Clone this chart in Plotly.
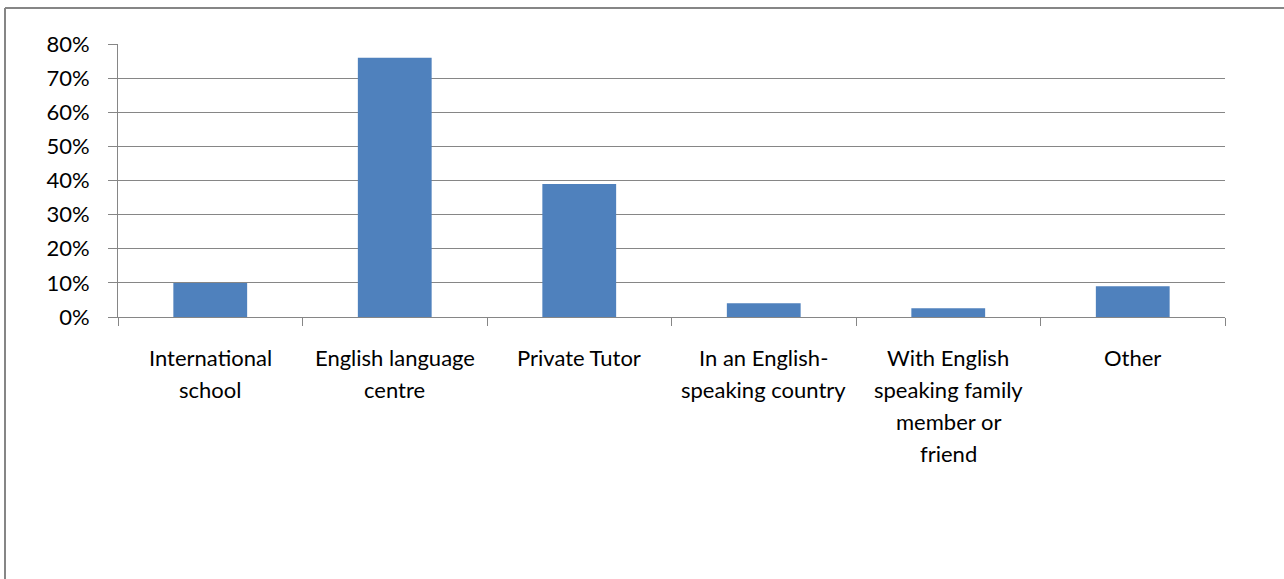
import plotly.graph_objects as go

# Survey responses: where English was studied
categories = [
    "International school",
    "English language centre",
    "Private Tutor",
    "In an English-speaking country",
    "With English speaking family member or friend",
    "Other",
]
# Category labels as they wrap under the axis
label_lines = [
    ["International", "school"],
    ["English language", "centre"],
    ["Private Tutor"],
    ["In an English-", "speaking country"],
    ["With English", "speaking family", "member or", "friend"],
    ["Other"],
]
shares = [0.10, 0.76, 0.39, 0.04, 0.026, 0.09]
y_ticks = [0.0, 0.1, 0.2, 0.3, 0.4, 0.5, 0.6, 0.7, 0.8]

W, H = 1284, 579
ML, MR, MT, MB = 118, 59, 44, 262
GRID = "#868686"
FONT = "Lato"
FSIZE = 22

fig = go.Figure(
    go.Bar(
        x=categories,
        y=shares,
        marker=dict(color="#4F81BD", line=dict(width=0)),
        width=0.4,
        hoverinfo="x+y",
    )
)

# Wrapped category labels, one line per annotation for Excel-like spacing
annotations = []
for cat, lines in zip(categories, label_lines):
    for i, line in enumerate(lines):
        annotations.append(
            dict(
                x=cat, xref="x", y=0, yref="paper",
                text=line, showarrow=False,
                xanchor="center", yanchor="middle",
                yshift=-(40 + 32 * i),
                font=dict(family=FONT, size=FSIZE, color="#000000"),
            )
        )

# Chart-area frame (left and top edges)
pw = W - ML - MR
ph = H - MT - MB
x_left = (5 - ML) / pw
x_right = (W + 5 - ML) / pw
y_top = (H - MB - 8) / ph
y_bottom = (H - MB - H - 5) / ph
shapes = [
    dict(type="line", xref="paper", yref="paper", x0=x_left, x1=x_right,
         y0=y_top, y1=y_top, line=dict(color=GRID, width=2)),
    dict(type="line", xref="paper", yref="paper", x0=x_left, x1=x_left,
         y0=y_top, y1=y_bottom, line=dict(color=GRID, width=2)),
]

fig.update_layout(
    width=W,
    height=H,
    margin=dict(l=ML, r=MR, t=MT, b=MB, pad=0),
    paper_bgcolor="white",
    plot_bgcolor="white",
    showlegend=False,
    bargap=0.6,
    annotations=annotations,
    shapes=shapes,
    font=dict(family=FONT, size=FSIZE, color="#000000"),
)

fig.update_xaxes(
    showticklabels=False,
    showgrid=False,
    showline=True,
    linecolor=GRID,
    linewidth=1,
    ticks="outside",
    tickson="boundaries",
    ticklen=8,
    tickcolor=GRID,
    tickwidth=1,
    zeroline=False,
)

fig.update_yaxes(
    range=[0, 0.8],
    tickvals=y_ticks,
    tickformat=".0%",
    showgrid=True,
    gridcolor=GRID,
    gridwidth=1,
    showline=True,
    linecolor=GRID,
    linewidth=1,
    ticks="outside",
    ticklen=9,
    tickcolor=GRID,
    tickwidth=1,
    ticklabelstandoff=14,
    zeroline=False,
    tickfont=dict(family=FONT, size=FSIZE, color="#000000"),
)

fig.write_html("out.html")
